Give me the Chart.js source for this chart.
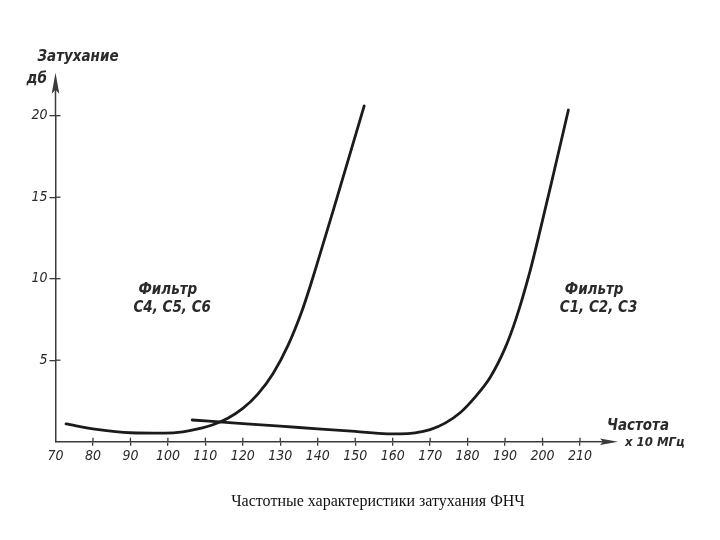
<!DOCTYPE html>
<html>
<head>
<meta charset="utf-8">
<script src="https://cdn.jsdelivr.net/npm/chart.js@4.4.1/dist/chart.umd.min.js"></script>
<style>
  html, body { margin: 0; padding: 0; background: #fff; }
  #wrap { position: relative; width: 720px; height: 540px; }
  #caption { position: absolute; left: 178px; width: 400px; top: 491px; text-align: center;
    font: 16px "Liberation Serif", "DejaVu Serif", serif; color: #111; line-height: 20px; }
</style>
</head>
<body>
<div id="wrap">
  <canvas id="c" width="720" height="540"></canvas>
  <div id="caption">Частотные характеристики затухания ФНЧ</div>
</div>
<script>
// ---- data ----
const xTicks = [70, 80, 90, 100, 110, 120, 130, 140, 150, 160, 170, 180, 190, 200, 210];
const yTicks = [5, 10, 15, 20];

// Filter C4, C5, C6
const c456X = [72.8, 81, 90, 99, 104, 108, 112, 116, 120, 124, 128, 132, 136, 139.5, 145.7, 152.4];
const c456Y = [1.09, 0.76, 0.55, 0.52, 0.6, 0.78, 1.04, 1.44, 2.04, 2.92, 4.16, 5.88, 8.16, 10.66, 15.4, 20.6];

// Filter C1, C2, C3
const c123X = [106.5, 120, 135, 150, 158.5, 162, 166, 170, 174, 178, 182, 186, 190, 193, 196.7, 199.5, 203, 206.9];
const c123Y = [1.33, 1.11, 0.87, 0.63, 0.48, 0.48, 0.54, 0.74, 1.14, 1.78, 2.74, 3.94, 5.74, 7.6, 10.5, 13.1, 16.5, 20.35];

const yTitle = ['Затухание', 'дб'];
const xTitle = ['Частота', 'x 10 МГц'];
const filterLabels = [
  { x: 90.8, y: 9.3, lines: ['Фильтр', 'С4, С5, С6'] },
  { x: 204.6, y: 9.3, lines: ['Фильтр', 'С1, С2, С3'] }
];

const toPts = (xs, ys) => xs.map((v, i) => ({ x: v, y: ys[i] }));
const ink = '#1b1b1b';
const axisInk = '#3a3a3a';
const fam = '"DejaVu Sans Condensed", "DejaVu Sans", sans-serif';
const titleFont = 'italic bold 15px ' + fam;
const smallTitleFont = 'italic bold 13px ' + fam;

const extras = {
  id: 'extras',
  afterDraw(chart) {
    const { ctx, chartArea: { left, right, top, bottom }, scales: { x, y } } = chart;
    ctx.save();
    ctx.strokeStyle = axisInk;
    ctx.fillStyle = axisInk;
    ctx.lineWidth = 1.5;
    // x axis extension + arrow
    ctx.beginPath(); ctx.moveTo(right, bottom); ctx.lineTo(right + 30, bottom); ctx.stroke();
    ctx.beginPath();
    ctx.moveTo(right + 38, bottom); ctx.lineTo(right + 20, bottom - 3.2); ctx.lineTo(right + 23, bottom);
    ctx.lineTo(right + 20, bottom + 3.2); ctx.closePath(); ctx.fill();
    // y axis extension + arrow
    ctx.beginPath(); ctx.moveTo(left, top); ctx.lineTo(left, top - 34); ctx.stroke();
    ctx.beginPath();
    ctx.moveTo(left, top - 43); ctx.lineTo(left - 3.8, top - 22); ctx.lineTo(left, top - 26);
    ctx.lineTo(left + 3.8, top - 22); ctx.closePath(); ctx.fill();
    // inner halves of the crossing ticks
    ctx.lineWidth = 1.3;
    xTicks.forEach(v => {
      if (v === x.min) return;
      const px = x.getPixelForValue(v);
      ctx.beginPath(); ctx.moveTo(px, bottom); ctx.lineTo(px, bottom - 4); ctx.stroke();
    });
    yTicks.forEach(v => {
      const py = y.getPixelForValue(v);
      ctx.beginPath(); ctx.moveTo(left, py); ctx.lineTo(left + 5, py); ctx.stroke();
    });
    // axis titles
    ctx.fillStyle = '#2a2a2a';
    ctx.font = titleFont;
    ctx.textBaseline = 'middle';
    ctx.textAlign = 'left';
    ctx.fillText(yTitle[0], left - 18, top - 59);
    ctx.fillText(yTitle[1], left - 29, top - 37);
    ctx.fillText(xTitle[0], right + 27, bottom - 16);
    ctx.font = smallTitleFont;
    ctx.fillText(xTitle[1], right + 45, bottom + 1);
    // filter annotations
    ctx.font = titleFont;
    filterLabels.forEach(l => {
      const px = x.getPixelForValue(l.x), py = y.getPixelForValue(l.y);
      ctx.fillText(l.lines[0], px + 5, py);
      ctx.fillText(l.lines[1], px, py + 18);
    });
    ctx.restore();
  }
};

new Chart(document.getElementById('c'), {
  type: 'line',
  data: {
    datasets: [
      { label: 'Фильтр С4, С5, С6', data: toPts(c456X, c456Y) },
      { label: 'Фильтр С1, С2, С3', data: toPts(c123X, c123Y) }
    ]
  },
  options: {
    responsive: false,
    animation: false,
    devicePixelRatio: 1,
    layout: { padding: { top: 115.7, right: 140, bottom: 68.3, left: 0 } },
    elements: {
      line: { borderColor: ink, borderWidth: 2.8, cubicInterpolationMode: 'monotone', fill: false, borderCapStyle: 'round' },
      point: { radius: 0, hoverRadius: 0 }
    },
    datasets: { line: { clip: false } },
    plugins: { legend: { display: false }, tooltip: { enabled: false }, title: { display: false } },
    scales: {
      x: {
        type: 'linear', min: 70, max: 210,
        afterBuildTicks: s => { s.ticks = xTicks.map(v => ({ value: v })); },
        afterFit: s => { s.height = 30; },
        ticks: { font: { family: fam, size: 14, style: 'italic' }, color: '#2a2a2a', padding: 2, maxRotation: 0, autoSkip: false },
        grid: { drawOnChartArea: false, drawTicks: true, tickLength: 4, color: axisInk, lineWidth: 1.3,
                tickColor: c => (c.tick && c.tick.value === 70) ? 'rgba(0,0,0,0)' : axisInk },
        border: { display: true, color: axisInk, width: 1.5 }
      },
      y: {
        type: 'linear', min: 0, max: 20,
        afterBuildTicks: s => { s.ticks = yTicks.map(v => ({ value: v })); },
        afterFit: s => { s.width = 55.5; },
        ticks: { font: { family: fam, size: 14, style: 'italic' }, color: '#2a2a2a', padding: 2 },
        grid: { drawOnChartArea: false, drawTicks: true, tickLength: 6, color: axisInk, lineWidth: 1.3 },
        border: { display: true, color: axisInk, width: 1.5 }
      }
    }
  },
  plugins: [extras]
});
</script>
</body>
</html>
